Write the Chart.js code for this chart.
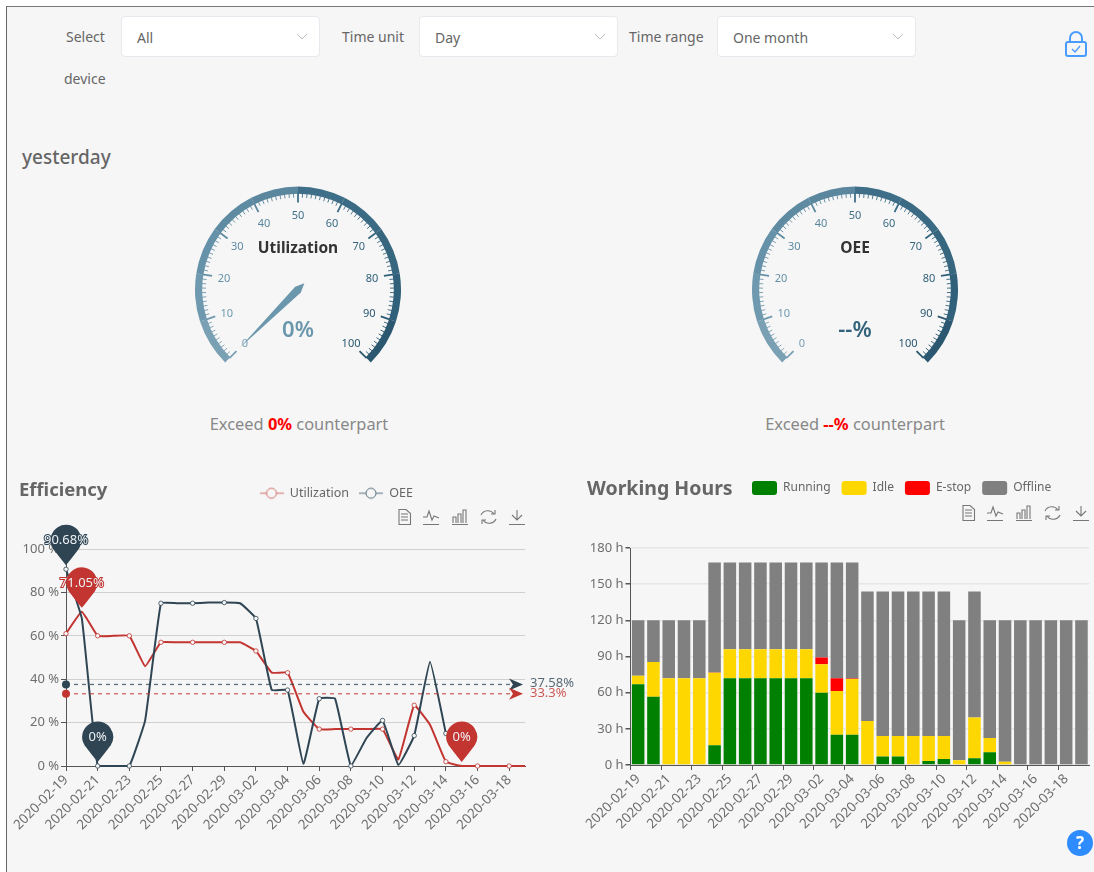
<!DOCTYPE html>
<html>
<head>
<meta charset="utf-8">
<title>Device dashboard</title>
<script src="https://cdn.jsdelivr.net/npm/chart.js@4/dist/chart.umd.min.js"></script>
<style>
  html, body { margin: 0; padding: 0; background: #fff; width: 1094px; height: 872px; overflow: hidden; }
  body { font-family: "Noto Sans", sans-serif; color: #666; filter: blur(0.35px); }
  #page { position: absolute; left: 6px; top: 6px; width: 1088px; height: 866px; background: #f6f6f6;
          border-left: 1.5px solid #666; border-top: 1px solid #777; box-sizing: border-box; }
  .abs { position: absolute; white-space: nowrap; }
  .label { font-size: 14px; color: #666; line-height: 20px; }
  .select { position: absolute; top: 16px; height: 41px; width: 199px; background: #fff; border: 1px solid #e8e8ee;
            border-radius: 4px; box-sizing: border-box; font-size: 14px; line-height: 41px; padding-left: 15px; color: #666; }
  .select svg { position: absolute; right: 11px; top: 16px; }
  .heading { font-size: 18.5px; font-weight: 700; color: #666; line-height: 24px; }
  .exceed { font-size: 16.4px; color: #888; line-height: 22px; transform: translateX(-50%); }
  .exceed b { color: #f00; font-weight: 700; }
  canvas { position: absolute; display: block; }
</style>
</head>
<body>
<div id="page"></div>

<div class="abs label" style="left:66px;top:27px">Select</div>
<div class="abs label" style="left:64px;top:69px">device</div>
<div class="select" style="left:121px">All<svg width="12" height="8"><path d="M1 1 L6 6 L11 1" fill="none" stroke="#bbb"/></svg></div>
<div class="abs label" style="left:342px;top:27px">Time unit</div>
<div class="select" style="left:419px">Day<svg width="12" height="8"><path d="M1 1 L6 6 L11 1" fill="none" stroke="#bbb"/></svg></div>
<div class="abs label" style="left:629px;top:27px">Time range</div>
<div class="select" style="left:717px">One month<svg width="12" height="8"><path d="M1 1 L6 6 L11 1" fill="none" stroke="#bbb"/></svg></div>

<svg class="abs" style="left:1064px;top:30px" width="24" height="28">
  <path d="M6 12 V8 a6 6 0 0 1 12 0 V12" fill="none" stroke="#4a9bff" stroke-width="2"/>
  <rect x="2" y="12" width="20" height="14" rx="2" fill="none" stroke="#4a9bff" stroke-width="2"/>
  <path d="M8 19 L11 22 L16 16" fill="none" stroke="#4a9bff" stroke-width="1.4"/>
</svg>

<div class="abs" style="left:22px;top:144px;font-size:19px;font-weight:500;color:#666;line-height:26px">yesterday</div>

<canvas id="gauge0" width="206" height="177" style="left:195px;top:186px"></canvas>
<canvas id="gauge1" width="206" height="177" style="left:752px;top:186px"></canvas>
<div class="abs exceed" style="left:299px;top:413px">Exceed <b>0%</b> counterpart</div>
<div class="abs exceed" style="left:855px;top:413px">Exceed <b>--%</b> counterpart</div>

<canvas id="lineChart" width="580" height="392" style="left:0;top:480px"></canvas>
<canvas id="barChart" width="514" height="392" style="left:580px;top:480px"></canvas>

<div class="abs heading" style="left:19px;top:477px">Efficiency</div>
<div class="abs heading" style="left:587px;top:476px;font-size:19.5px">Working Hours</div>

<svg width="0" height="0" style="position:absolute">
  <g id="toolIcons" fill="none" stroke="#777" stroke-width="1.1">
    <path d="M1 0.5 H8 L12.5 4.5 V15.5 H1 Z M3 5 H10 M3 8 H10 M3 11 H10"/>
    <path d="M25 15.5 H41 M25 8 H29 L31 2 L34 11 L36 7 L41 9"/>
    <path d="M54 15.5 H70 M55 14 V8 H58 V14 M60 14 V5 H63 V14 M65 14 V1 H68 V14"/>
    <path d="M83 6 A7.5 7.5 0 0 1 96 5 M98 10 A7.5 7.5 0 0 1 85 11 M93 5 H97 V1 M88 11 H84 V15"/>
    <path d="M111 15.5 H127 M119 1 V11 M114 6 L119 11 L124 6"/>
  </g>
</svg>
<svg class="abs" style="left:398px;top:509px" width="134" height="17"><use href="#toolIcons"/></svg>
<svg class="abs" style="left:962px;top:505px" width="130" height="17"><use href="#toolIcons"/></svg>

<svg class="abs" style="left:1066px;top:829px" width="28" height="30">
  <circle cx="14" cy="14" r="13" fill="#2f8cff"/>
  <text x="14" y="20" text-anchor="middle" font-family="Noto Sans" font-weight="700" font-size="17" fill="#fff">?</text>
</svg>

<script>
// Dates shared by both bottom charts
const days = ['2020-02-19','2020-02-20','2020-02-21','2020-02-22','2020-02-23','2020-02-24','2020-02-25','2020-02-26',
    '2020-02-27','2020-02-28','2020-02-29','2020-03-01','2020-03-02','2020-03-03','2020-03-04','2020-03-05','2020-03-06',
    '2020-03-07','2020-03-08','2020-03-09','2020-03-10','2020-03-11','2020-03-12','2020-03-13','2020-03-14','2020-03-15',
    '2020-03-16','2020-03-17','2020-03-18','2020-03-19'];

// Efficiency, percent per day
const utilization = [61, 71.05, 60, 60, 60, 46, 57, 57, 57, 57, 57, 57, 53, 43, 43, 25, 17, 17, 17, 17, 17, 3, 28, 19, 2, 0, 0, 0, 0, 0];
const oee = [90.68, 68, 0, 0, 0, 21, 75, 75, 75, 75.3, 75.3, 75, 68, 35, 35, 1, 31, 31, 0, 13, 21, 0.5, 14, 48, 15, null, null, null, null, null];
const meanValues = [33.3, 37.58];
const efficiencyTicks = [0, 20, 40, 60, 80, 100];

// Working hours per day
const running = [67, 56.6, 0, 0, 0, 16.3, 72, 72, 72, 72, 72, 72, 60, 25, 25, 0, 7, 7, 0, 3.3, 5, 0, 5.5, 10.5, 0, 0, 0, 0, 0, 0];
const idle = [7, 28.8, 72, 72, 72, 60.2, 24, 24, 24, 24, 24, 24, 23.5, 36.3, 46.3, 36.5, 17, 17, 24, 20.7, 19, 4, 34, 12, 2.7, 0, 0, 0, 0, 0];
const estop = [0, 0, 0, 0, 0, 0.3, 0, 0, 0, 0, 0, 0, 5.7, 10.7, 0.5, 0, 0, 0, 0, 0, 0, 0, 0, 0, 0, 0, 0, 0, 0, 0];
const offline = [46, 34.6, 48, 48, 48, 91.2, 72, 72, 72, 72, 72, 72, 78.8, 96, 96.2, 107.5, 120, 120, 120, 120, 120, 116, 104.5, 97.5, 117.3, 120, 120, 120, 120, 120];

// Gauges
const gaugeNames = ['Utilization', 'OEE'];
const gaugeValues = [0, null];
const gaugeTexts = ['0%', '--%'];
const gaugeTextColors = ['#6b97ad', '#33627b'];
const gaugeBands = [10, 10, 10, 10, 10, 10, 10, 10, 10, 10];
const gaugeColors = ['#7aa0b4','#6f99ae','#6592a8','#5e8ba2','#5a879e','#3f6f88','#3b6b84','#37667f','#30607a','#2b5870'];

const RED = '#c23531', NAVY = '#2f4554', FONT = '"Noto Sans", sans-serif', AXIS_TEXT = '#6e6e6e';

Chart.defaults.font.family = FONT;
Chart.defaults.animation = false;

// Legend gets a fixed height and is moved to a fixed place
function legendPlace(topSpace, x, y) {
    return {
        id: 'legendPlace',
        beforeInit(chart) {
            const fit = chart.legend.fit;
            chart.legend.fit = function () { fit.call(this); this.height = topSpace; };
        },
        afterLayout(chart) {
            const w = chart.legend.right - chart.legend.left;
            chart.legend.left = x; chart.legend.right = x + w; chart.legend.top = y;
        }
    };
}

// Legend icon for the line series: short line with a hollow circle
function lineIcon(color) {
    const c = document.createElement('canvas');
    c.width = 24; c.height = 14;
    const g = c.getContext('2d');
    g.strokeStyle = color; g.lineWidth = 1;
    g.beginPath(); g.moveTo(0, 7); g.lineTo(24, 7); g.stroke();
    g.fillStyle = '#f6f6f6';
    g.beginPath(); g.arc(12, 7, 5, 0, Math.PI * 2); g.fill(); g.stroke();
    return c;
}

// Axis helpers: only every second day gets a label and a tick
const everyOther = c => c.index % 2 === 0 ? '#555' : 'rgba(0,0,0,0)';
function dayLabel(v, i) { return i % 2 === 0 ? days[i] : ''; }

function xAxis(extra) {
    return Object.assign({
        border: { color: '#555', width: 1 },
        grid: { drawOnChartArea: false, tickLength: 5, tickColor: everyOther },
        ticks: { autoSkip: false, maxRotation: 45, minRotation: 45, padding: 1, color: AXIS_TEXT, font: { size: 13.5 }, callback: dayLabel },
        afterFit(s) { s.height = 80; }
    }, extra);
}

// Drop-shaped marker, tip sits on the data point
function pin(ctx, x, y, color, text) {
    const r = 15.5, cy = y - 29, tip = y - 4;
    ctx.save();
    ctx.fillStyle = color;
    ctx.beginPath();
    ctx.arc(x, cy, r, Math.PI * 0.82, Math.PI * 0.18);
    ctx.quadraticCurveTo(x + 5, tip - 6, x, tip);
    ctx.quadraticCurveTo(x - 5, tip - 6, x - r * Math.cos(Math.PI * 0.18), cy + r * Math.sin(Math.PI * 0.18));
    ctx.closePath();
    ctx.fill();
    ctx.font = '13px ' + FONT;
    ctx.textAlign = 'center';
    ctx.textBaseline = 'middle';
    ctx.lineWidth = 2;
    ctx.strokeStyle = color;
    ctx.strokeText(text, x, cy);
    ctx.fillStyle = '#eef1f3';
    ctx.fillText(text, x, cy);
    ctx.restore();
}

// Average lines with start dot, end arrow and label
function meanLine(chart, value, color, textY) {
    const ctx = chart.ctx, y = chart.scales.y.getPixelForValue(value);
    const x0 = chart.chartArea.left, x1 = chart.chartArea.right;
    ctx.save();
    ctx.strokeStyle = color; ctx.globalAlpha = 0.75; ctx.lineWidth = 1.3; ctx.setLineDash([4, 4]);
    ctx.beginPath(); ctx.moveTo(x0, y); ctx.lineTo(x1 - 8, y); ctx.stroke();
    ctx.setLineDash([]); ctx.globalAlpha = 1;
    ctx.fillStyle = color;
    ctx.beginPath(); ctx.arc(x0, y, 4, 0, Math.PI * 2); ctx.fill();
    ctx.beginPath(); ctx.moveTo(x1 - 2, y); ctx.lineTo(x1 - 16, y - 6); ctx.lineTo(x1 - 12, y); ctx.lineTo(x1 - 16, y + 6); ctx.closePath(); ctx.fill();
    ctx.font = '13px ' + FONT; ctx.textBaseline = 'middle';
    ctx.globalAlpha = 0.8;
    ctx.fillText(value + '%', x1 + 5, textY);
    ctx.restore();
}

const efficiencyMarks = {
    id: 'efficiencyMarks',
    afterDraw(chart) {
        const sx = chart.scales.x, sy = chart.scales.y;
        meanLine(chart, meanValues[1], NAVY, 203);
        meanLine(chart, meanValues[0], RED, 213);
        [[oee, NAVY], [utilization, RED]].forEach(([arr, color]) => {
            const vals = arr.filter(v => v !== null);
            const hi = Math.max(...vals), lo = Math.min(...vals);
            pin(chart.ctx, sx.getPixelForValue(arr.indexOf(hi)), sy.getPixelForValue(hi), color, hi + '%');
            pin(chart.ctx, sx.getPixelForValue(arr.indexOf(lo)), sy.getPixelForValue(lo), color, lo + '%');
        });
    }
};

function lineSeries(label, data, color, order) {
    return {
        label, data, order,
        borderColor: color, borderWidth: 2, tension: 0.1,
        backgroundColor: '#f6f6f6', pointBorderColor: color, pointBorderWidth: 0.8,
        pointRadius: c => c.dataIndex % 2 === 0 ? 2.2 : 0,
        clip: false
    };
}

new Chart(document.getElementById('lineChart'), {
    type: 'line',
    data: { labels: days, datasets: [lineSeries('Utilization', utilization, RED, 2), lineSeries('OEE', oee, NAVY, 1)] },
    options: {
        responsive: false,
        layout: { padding: { left: 16, right: 55, bottom: 26 } },
        scales: {
            x: xAxis({ offset: false }),
            y: {
                min: 0, max: 100,
                afterBuildTicks(s) { s.ticks = efficiencyTicks.map(v => ({ value: v })); },
                afterFit(s) { s.width = 50; },
                border: { color: '#555', width: 1 },
                grid: { color: '#d0d0d0', tickColor: '#555', tickLength: 5 },
                ticks: { color: AXIS_TEXT, font: { size: 13 }, padding: 2, callback: v => v + ' %' }
            }
        },
        plugins: {
            tooltip: { enabled: false },
            legend: {
                labels: {
                    color: '#666', font: { size: 12.5 }, padding: 10, usePointStyle: true, pointStyleWidth: 24,
                    generateLabels: chart => ['Utilization', 'OEE'].map((t, i) => ({
                        text: t, pointStyle: lineIcon(i === 0 ? '#d0706d' : '#58707f'), fontColor: '#666',
                        datasetIndex: i, lineWidth: 0, strokeStyle: 'rgba(0,0,0,0)', fillStyle: 'rgba(0,0,0,0)'
                    }))
                },
                align: 'start'
            }
        }
    },
    plugins: [legendPlace(69, 249.5, -3), efficiencyMarks]
});

const hourSeries = (label, data, color) => ({ label, data, backgroundColor: color, barPercentage: 0.82, categoryPercentage: 1, stack: 'hours' });

new Chart(document.getElementById('barChart'), {
    type: 'bar',
    data: {
        labels: days,
        datasets: [
            hourSeries('Running', running, '#008000'),
            hourSeries('Idle', idle, '#ffd700'),
            hourSeries('E-stop', estop, '#ff0000'),
            hourSeries('Offline', offline, '#808080')
        ]
    },
    options: {
        responsive: false,
        layout: { padding: { left: 5, right: 4.5, bottom: 27 } },
        scales: {
            x: xAxis({ stacked: true, offset: true, grid: { offset: true, drawOnChartArea: false, tickLength: 5, tickColor: everyOther } }),
            y: {
                stacked: true, min: 0, max: 180,
                ticks: { stepSize: 30, color: AXIS_TEXT, font: { size: 13 }, padding: 2, callback: v => v + ' h' },
                afterFit(s) { s.width = 45.5; },
                border: { color: '#555', width: 1 },
                grid: { color: '#e6e6e6', lineWidth: 1.5, tickColor: '#555', tickLength: 5 }
            }
        },
        plugins: {
            tooltip: { enabled: false },
            legend: {
                align: 'start',
                labels: { color: '#666', font: { size: 12 }, padding: 11, boxWidth: 25, boxHeight: 14, useBorderRadius: true, borderRadius: 3 }
            }
        }
    },
    plugins: [legendPlace(68, 161, -10)]
});

// Scale, needle and texts on top of the doughnut band
const gaugeFace = {
    id: 'gaugeFace',
    afterDatasetsDraw(chart) {
        const n = chart.options.gaugeIndex;
        const arc = chart.getDatasetMeta(0).data[0];
        const cx = arc.x, cy = arc.y, R = arc.outerRadius, ctx = chart.ctx;
        const angle = v => (135 + v / 100 * 270) * Math.PI / 180;
        ctx.save();
        ctx.textAlign = 'center';
        ctx.textBaseline = 'middle';
        for (let v = 0; v <= 100; v++) {
            const major = v % 10 === 0, a = angle(v), color = gaugeColors[Math.min(Math.floor(v / 10), 9)];
            const r0 = R - 6, r1 = r0 - (major ? 10 : 5);
            ctx.strokeStyle = color;
            ctx.lineWidth = major ? 1.8 : 0.9;
            ctx.beginPath();
            ctx.moveTo(cx + r0 * Math.cos(a), cy + r0 * Math.sin(a));
            ctx.lineTo(cx + r1 * Math.cos(a), cy + r1 * Math.sin(a));
            ctx.stroke();
            if (major) {
                ctx.fillStyle = color;
                ctx.font = '11px ' + FONT;
                ctx.fillText(String(v), cx + 75 * Math.cos(a), cy + 75 * Math.sin(a) + 1);
            }
        }
        if (gaugeValues[n] !== null) {
            const a = angle(gaugeValues[n]), ux = Math.cos(a), uy = Math.sin(a);
            ctx.fillStyle = gaugeTextColors[n];
            ctx.beginPath();
            ctx.moveTo(cx + ux * 82, cy + uy * 82);
            ctx.lineTo(cx - uy * 4, cy + ux * 4);
            ctx.lineTo(cx - ux * 9, cy - uy * 9);
            ctx.lineTo(cx + uy * 4, cy - ux * 4);
            ctx.closePath();
            ctx.fill();
        }
        ctx.fillStyle = '#333';
        ctx.font = '700 15.5px ' + FONT;
        ctx.fillText(gaugeNames[n], cx, cy - 41);
        ctx.fillStyle = gaugeTextColors[n];
        ctx.font = '600 22px ' + FONT;
        ctx.fillText(gaugeTexts[n], cx, cy + 41);
        ctx.restore();
    }
};

gaugeNames.forEach((name, n) => {
    new Chart(document.getElementById('gauge' + n), {
        type: 'doughnut',
        data: { labels: gaugeBands.map((b, i) => String(i * 10)), datasets: [{ data: gaugeBands, backgroundColor: gaugeColors, borderWidth: 0 }] },
        options: {
            responsive: false,
            gaugeIndex: n,
            rotation: -135,
            circumference: 270,
            cutout: '93%',
            plugins: { legend: { display: false }, tooltip: { enabled: false } }
        },
        plugins: [gaugeFace]
    });
});
</script>
</body>
</html>
